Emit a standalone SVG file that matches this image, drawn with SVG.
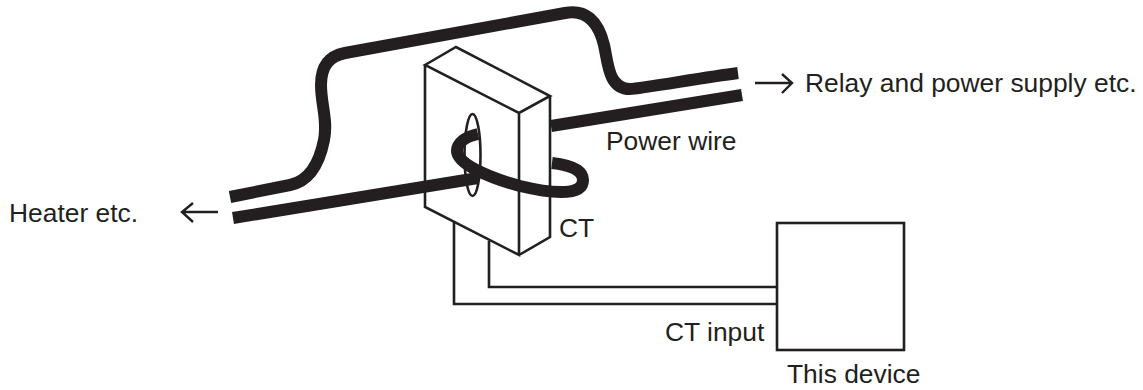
<svg xmlns="http://www.w3.org/2000/svg" width="1143" height="390" viewBox="0 0 1143 390">
<style>
.w{fill:none;stroke:#231f20;stroke-width:12}
.l{fill:none;stroke:#231f20;stroke-width:2.6;stroke-linejoin:miter}
.a{fill:none;stroke:#231f20;stroke-width:2.4}
text{font-family:"Liberation Sans",Arial,sans-serif;font-size:26.4px;fill:#231f20}
</style>
<rect width="1143" height="390" fill="#fff"/>
<g id="connectors">
<path class="w" d="M230 197L290 185C305 182 318 170 324 140C328 120 321 105 321 85C321 65 330 56 345 53L565 13C585 9 598 20 604 45C608 62 608 89 630 89C640 89 700 78 738 73"/>
<path class="w" d="M551 126L742 95"/>
<path class="l" d="M454 222V304H777M489 241V287H777"/>
</g>
<g id="ct">
<path class="l" d="M425 65L456 47L550 96L519 113ZM425 65V207L519 255V113M519 255L550 237V96"/>
<ellipse class="l" cx="472.500" cy="155" rx="8" ry="41"/>
<path class="w" d="M233 218L478 178"/>
<path class="w" d="M478 134C465 137 457 143 457 151C457 164 490 178 520 186C545 192 583 198 583 180C583 170 570 165 552 163"/>
<text x="559" y="237">CT</text>
</g>
<g id="device">
<rect class="l" x="777" y="223" width="127" height="127"/>
<text x="787" y="383">This device</text>
<text x="665" y="341">CT input</text>
</g>
<g id="labels">
<path class="a" d="M755 83H791M782 74L792 83L782 93"/>
<text x="805" y="92">Relay and power supply etc.</text>
<text x="606" y="150">Power wire</text>
<path class="a" d="M218 212H182M193 203L182 212L193 222"/>
<text x="9" y="222">Heater etc.</text>
</g>
</svg>
